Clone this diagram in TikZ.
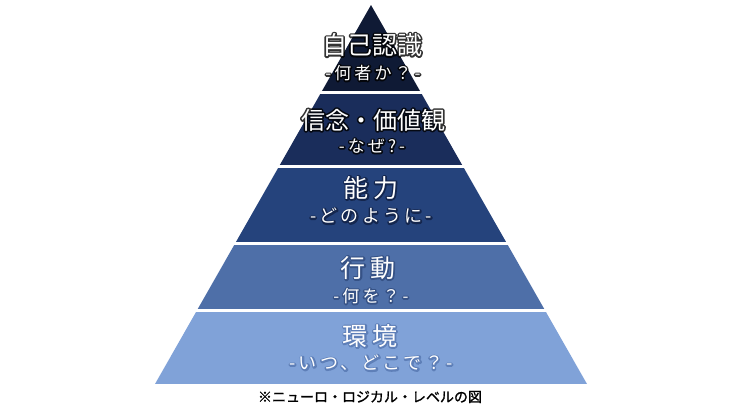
\documentclass[tikz,border=0pt]{standalone}
\usepackage{fontspec}
\newfontfamily\jp{Noto Sans CJK JP}
\newfontfamily\jpsp[LetterSpace=18]{Noto Sans CJK JP}
\newfontfamily\jpb[FakeBold=1.2]{Noto Sans CJK JP}
\definecolor{tA}{HTML}{0F1A35}
\definecolor{tB}{HTML}{1A2D5B}
\definecolor{tC}{HTML}{25437C}
\definecolor{tD}{HTML}{4E6FA8}
\definecolor{tE}{HTML}{80A2D8}
% stroke-only text (outline halo) in rgb #1 with line width #2
\newcommand\halo[3]{\special{pdf:literal direct 1 Tr 1 j 1 J #2 w #1 RG}#3\special{pdf:literal direct 0 Tr}}
% #1 x, #2 y, #3 name, #4 font, #5 text, #6 halo rgb, #7 width, #8 opacity
\newcommand\gtext[8]{%
  \node[opacity=#8,inner sep=0pt] at (#1,#2) {#4\halo{#6}{#7}{#5}};
  \node[text=white,inner sep=0pt] (#3) at (#1,#2) {#4#5};}
\begin{document}
\begin{tikzpicture}[x=1pt,y=-1pt]
\useasboundingbox[fill=white] (0,0) rectangle (740,416);
\begin{scope}
\clip (371,5) -- (155,384) -- (587,384) -- cycle;
\fill[tA] (0,0) rectangle (740,91);
\fill[tB] (0,94) rectangle (740,165);
\fill[tC] (0,168) rectangle (740,242);
\fill[tD] (0,245) rectangle (740,309);
\fill[tE] (0,312) rectangle (740,384);
\end{scope}
\gtext{372}{45}{l1}{\fontsize{25}{25}\jp}{自己認識}{0 0 0}{3.2}{0.8}
\gtext{373}{73}{s1}{\fontsize{17}{17}\jpsp}{-何者か？-}{0 0 0}{3}{0.8}
\gtext{373}{120}{l2}{\fontsize{24}{24}\jp}{信念・価値観}{0 0 0}{3.2}{0.8}
\gtext{372}{146}{s2}{\fontsize{17}{17}\jpsp}{-なぜ?-}{0 0 0}{3}{0.8}
\gtext{371}{188}{l3}{\fontsize{25}{25}\jpsp}{能力}{0.04 0.08 0.19}{3}{0.6}
\gtext{371}{216}{s3}{\fontsize{18}{18}\jpsp}{-どのように-}{0.04 0.08 0.19}{3}{0.6}
\gtext{368}{268}{l4}{\fontsize{25}{25}\jpsp}{行動}{0.12 0.21 0.4}{3}{0.5}
\gtext{371}{296}{s4}{\fontsize{17}{17}\jpsp}{-何を？-}{0.12 0.21 0.4}{3}{0.5}
\gtext{370}{336}{l5}{\fontsize{25}{25}\jpsp}{環境}{0.24 0.37 0.6}{3}{0.5}
\gtext{371}{363}{s5}{\fontsize{18}{18}\jpsp}{-いつ、どこで？-}{0.24 0.37 0.6}{3}{0.5}
\node[text=black,inner sep=0pt] (cap) at (370,397) {\fontsize{14}{14}\jpb ※ニューロ・ロジカル・レベルの図};
\end{tikzpicture}
\end{document}
